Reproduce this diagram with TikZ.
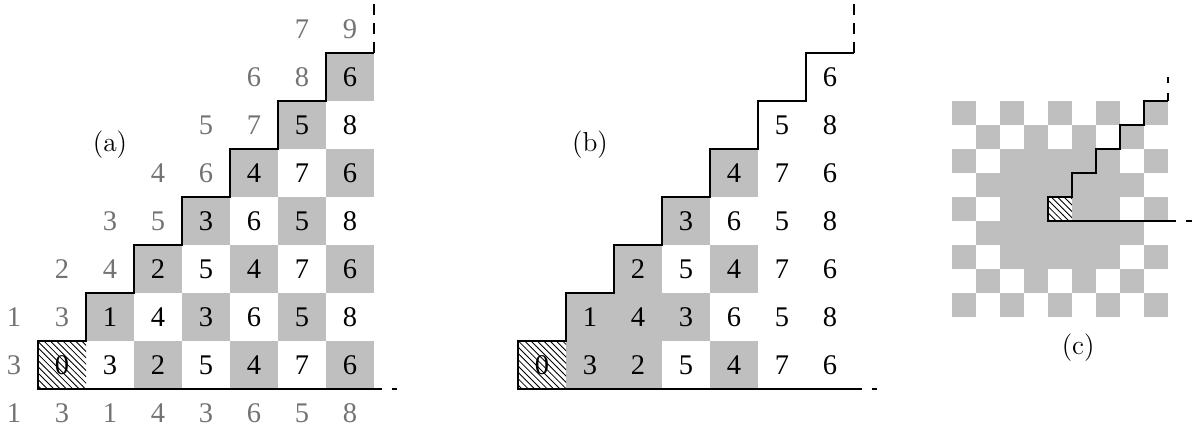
\documentclass[tikz,border=0pt]{standalone}
\usepackage{fontspec}
\usetikzlibrary{patterns}
\setmainfont{Liberation Serif}
\newfontfamily\lmfont{Latin Modern Roman}
\colorlet{cellgray}{black!25}
\colorlet{labgray}{black!55}
\tikzset{
  num/.style={font={\fontsize{13.5}{15}\selectfont}, inner sep=0pt},
  lab/.style={num, text=labgray},
  tag/.style={font={\lmfont\fontsize{13}{15}\selectfont}, inner sep=0pt},
  hatch/.style={pattern=north west lines},
  ext/.style={dash pattern=on 3.8pt off 4.7pt},
  topext/.style={dash pattern=on 5.2pt off 3.8pt}
}
\begin{document}
\begin{tikzpicture}[x=0.8cm,y=0.8cm,line width=1pt]
\useasboundingbox (-0.792,-0.854) rectangle (24.083,8.104);
% (a)
\foreach \j in {0,...,6} \foreach \i in {\j,...,6} {
  \pgfmathtruncatemacro\g{(mod(\i+\j,2)==0) && (\i>0)}
  \ifnum\g=1 \fill[cellgray] (\i,\j) rectangle +(1,1); \fi
}
\fill[hatch] (0,0) rectangle (1,1);
\foreach \j in {0,...,6} \foreach \i in {\j,...,6} {
  \pgfmathtruncatemacro\v{mod(\i+\j,2)==0 ? \i : \i+2}
  \node[num] (a-\i-\j) at (\i+.5,\j+.5) {\v};
}
\foreach \i/\j/\v [count=\n] in {-1/-1/1,0/-1/3,1/-1/1,2/-1/4,3/-1/3,4/-1/6,5/-1/5,6/-1/8,
  -1/0/3,-1/1/1,0/1/3,0/2/2,1/2/4,1/3/3,2/3/5,2/4/4,3/4/6,3/5/5,4/5/7,4/6/6,5/6/8,5/7/7,6/7/9}
  \node[lab] (g\n) at (\i+.5,\j+.5) {\v};
\draw (7,0) -- (0,0) -- (0,1) -- (1,1) -- (1,2) -- (2,2) -- (2,3) -- (3,3) -- (3,4) -- (4,4) -- (4,5) -- (5,5) -- (5,6) -- (6,6) -- (6,7) -- (7,7);
\draw[ext] (7,0) -- (7.48,0);
\draw[topext] (7,7) -- (7,8.02);
\node[tag] (la) at (1.5,5.08) {(a)};
% (b)
\foreach \i/\j in {1/0,2/0,4/0,1/1,2/1,3/1,2/2,4/2,3/3,4/4}
  \fill[cellgray] (\i+10,\j) rectangle +(1,1);
\fill[hatch] (10,0) rectangle (11,1);
\foreach \j in {0,...,6} \foreach \i in {\j,...,6} {
  \pgfmathtruncatemacro\v{mod(\i+\j,2)==0 ? \i : \i+2}
  \node[num] (b-\i-\j) at (\i+10.5,\j+.5) {\v};
}
\draw (17,0) -- (10,0) -- (10,1) -- (11,1) -- (11,2) -- (12,2) -- (12,3) -- (13,3) -- (13,4) -- (14,4) -- (14,5) -- (15,5) -- (15,6) -- (16,6) -- (16,7) -- (17,7);
\draw[ext] (17,0) -- (17.48,0);
\draw[topext] (17,7) -- (17,8.02);
\node[tag] (lb) at (11.5,5.08) {(b)};
% (c)
\begin{scope}[shift={(19.04,1.5)},scale=.5]
\foreach \c in {0,...,8} \foreach \r in {0,...,8} {
  \pgfmathtruncatemacro\g{(mod(\c+\r,2)==0) || ((\c>1) && (\c<7) && (\r>1) && (\r<7))}
  \ifnum\g=1 \fill[cellgray] (\c,\r) rectangle +(1,1); \fi
}
\fill[white] (4,4) rectangle (5,5);
\fill[hatch] (4,4) rectangle (5,5);
\draw (9,4) -- (4,4) -- (4,5) -- (5,5) -- (5,6) -- (6,6) -- (6,7) -- (7,7) -- (7,8) -- (8,8) -- (8,9) -- (9,9);
\draw[ext] (9,4) -- (10,4);
\draw[ext] (9,9) -- (9,10);
\end{scope}
\node[tag] (lc) at (21.67,0.854) {(c)};
\end{tikzpicture}
\end{document}
